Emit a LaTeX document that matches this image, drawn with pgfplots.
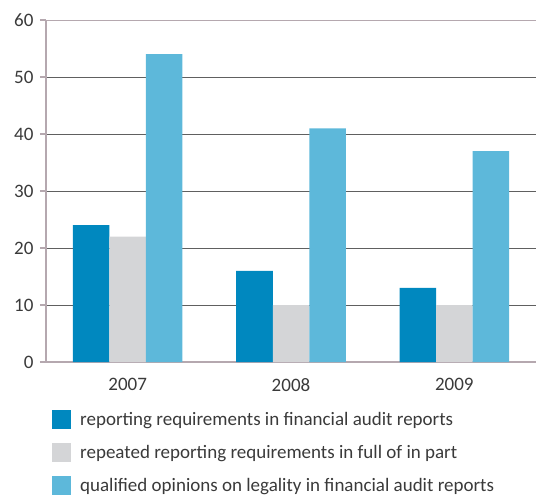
\documentclass[border=0pt]{standalone}
\usepackage{pgfplots}
\pgfplotsset{compat=1.18}
\usepackage{fontspec}
\setmainfont{Carlito}
\definecolor{cA}{HTML}{0088BF}
\definecolor{cB}{HTML}{D4D5D7}
\definecolor{cC}{HTML}{5DB8DA}
\definecolor{axc}{HTML}{B5A8AF}
\definecolor{txt}{HTML}{3A3A3A}
\definecolor{gridc}{HTML}{606060}
\begin{document}
\begin{tikzpicture}
\begin{axis}[
  at={(0,0)}, anchor=south west,
  scale only axis, width=490pt, height=342pt,
  ymin=0, ymax=60, ytick={0,10,...,60},
  xmin=-0.5, xmax=2.5,
  xtick={0,1,2}, xticklabels={2007,2008,2009},
  xtick style={draw=none},
  ytick style={draw=axc, line width=1.5pt},
  tick align=outside, major tick length=6pt,
  axis x line*=bottom, axis y line*=left,
  axis line style={axc, line width=1.5pt, -},
  ymajorgrids, grid style={gridc, line width=0.7pt},
  ybar=0pt, bar width=36.5pt,
  tick label style={txt, font=\fontsize{19}{19}\selectfont},
  /pgf/number format/assume math mode=true,
  yticklabel style={xshift=-3pt},
  xticklabel style={yshift=-7pt},
  legend cell align=left,
  legend style={at={(axis description cs:0.0122,-0.140)}, anchor=north west,
    draw=none, fill=none, inner sep=0pt, row sep=14pt,
    font=\fontsize{19}{19}\selectfont, text=txt,
    nodes={inner sep=0pt}, column sep=9pt},
  legend image code/.code={\fill[#1] (0pt,-9.5pt) rectangle (19pt,9.5pt);},
]
\addplot[fill=cA, draw=none] coordinates {(0,24) (1,16) (2,13)};
\addplot[fill=cB, draw=none] coordinates {(0,22) (1,10) (2,10)};
\addplot[fill=cC, draw=none] coordinates {(0,54) (1,41) (2,37)};
\legend{reporting requirements in financial audit reports,
  repeated reporting requirements in full of in part,
  qualified opinions on legality in financial audit reports}
\draw[axc, line width=1.5pt] (rel axis cs:0,1) -- (rel axis cs:1,1);
\draw[axc, line width=1.5pt] (rel axis cs:0,0) -- ++(0,-9pt);
\draw[axc, line width=1.5pt] (axis cs:0.5,0) -- ++(0,-9pt);
\draw[axc, line width=1.5pt] (axis cs:1.5,0) -- ++(0,-9pt);
\end{axis}
\pgfresetboundingbox
\path[use as bounding box] (-46pt,-134pt) rectangle (490pt,362pt);
\end{tikzpicture}
\end{document}
